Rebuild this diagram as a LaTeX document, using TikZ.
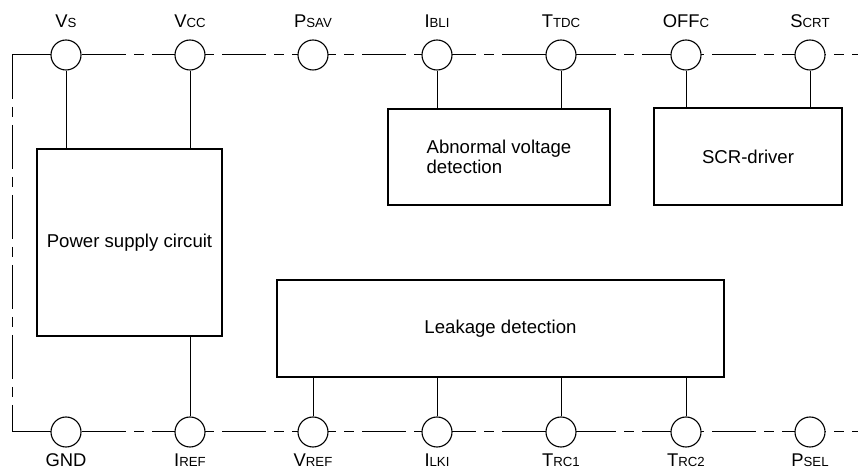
\documentclass[tikz,border=0pt]{standalone}
\usepackage{fontspec}
\setmainfont{Liberation Sans}
\newcommand{\pinsub}[1]{{\fontsize{6.6}{7}\selectfont #1}}
\tikzset{
  pin/.style={draw, circle, fill=white, minimum size=15pt, inner sep=0pt, line width=0.55pt},
  pinlbl/.style={font=\fontsize{9.2}{11}\selectfont, inner sep=0pt, anchor=base},
  blk/.style={draw, line width=0.55pt, font=\fontsize{9.3}{10.3}\selectfont, align=center},
  border/.style={line width=0.5pt, dash pattern=on 22pt off 4pt on 5pt off 4pt},
}
\begin{document}
\begin{tikzpicture}[x=0.5pt, y=-0.5pt, line width=0.5pt]
\useasboundingbox (0,0) rectangle (858,470);

% outer frame
\coordinate (tl) at (12,55);
\coordinate (tr) at (858,55);
\coordinate (bl) at (12,432);
\coordinate (br) at (858,432);
\path[draw,border] (tl) -- (tr);
\path[draw,border] (tl) -- (bl);
\path[draw,border] (bl) -- (br);

% top pins
\node[pin] (vs) at (66,55) {};
\node[pin] (vcc) at (190,55) {};
\node[pin] (psav) at (313,55) {};
\node[pin] (ibli) at (437,55) {};
\node[pin] (ttdc) at (561,55) {};
\node[pin] (offc) at (686,55) {};
\node[pin] (scrt) at (810,55) {};

\node[pinlbl] (lvs) at (66,28) {V\pinsub{S}};
\node[pinlbl] (lvcc) at (190,28) {V\pinsub{CC}};
\node[pinlbl] (lpsav) at (313,28) {P\pinsub{SAV}};
\node[pinlbl] (libli) at (437,28) {I\pinsub{BLI}};
\node[pinlbl] (lttdc) at (561,28) {T\pinsub{TDC}};
\node[pinlbl] (loffc) at (686,28) {OFF\pinsub{C}};
\node[pinlbl] (lscrt) at (810,28) {S\pinsub{CRT}};

% bottom pins
\node[pin] (gnd) at (66,432) {};
\node[pin] (iref) at (190,432) {};
\node[pin] (vref) at (313,432) {};
\node[pin] (ilki) at (437,432) {};
\node[pin] (trc1) at (561,432) {};
\node[pin] (trc2) at (686,432) {};
\node[pin] (psel) at (810,432) {};

\node[pinlbl] (lgnd) at (66,467) {GND};
\node[pinlbl] (liref) at (190,467) {I\pinsub{REF}};
\node[pinlbl] (lvref) at (313,467) {V\pinsub{REF}};
\node[pinlbl] (lilki) at (437,467) {I\pinsub{LKI}};
\node[pinlbl] (ltrc1) at (561,467) {T\pinsub{RC1}};
\node[pinlbl] (ltrc2) at (686,467) {T\pinsub{RC2}};
\node[pinlbl] (lpsel) at (810,467) {P\pinsub{SEL}};

% blocks
\node[blk, minimum width=92.5pt, minimum height=93.5pt] (psc) at (129.5,242.5) {Power supply circuit};
\node[blk, minimum width=111pt, minimum height=48pt, align=left] (avd) at (499,157) {Abnormal voltage\\detection};
\node[blk, minimum width=94pt, minimum height=48.5pt] (scr) at (748,156.5) {SCR-driver};
\node[blk, minimum width=223.5pt, minimum height=48.5pt] (lkd) at (500.5,328.5) {Leakage detection};

\path[draw] (vs) -- (vs |- psc.north);
\path[draw] (vcc) -- (vcc |- psc.north);
\path[draw] (ibli) -- (ibli |- avd.north);
\path[draw] (ttdc) -- (ttdc |- avd.north);
\path[draw] (offc) -- (offc |- scr.north);
\path[draw] (scrt) -- (scrt |- scr.north);
\path[draw] (iref) -- (iref |- psc.south);
\path[draw] (vref) -- (vref |- lkd.south);
\path[draw] (ilki) -- (ilki |- lkd.south);
\path[draw] (trc1) -- (trc1 |- lkd.south);
\path[draw] (trc2) -- (trc2 |- lkd.south);
\end{tikzpicture}
\end{document}
